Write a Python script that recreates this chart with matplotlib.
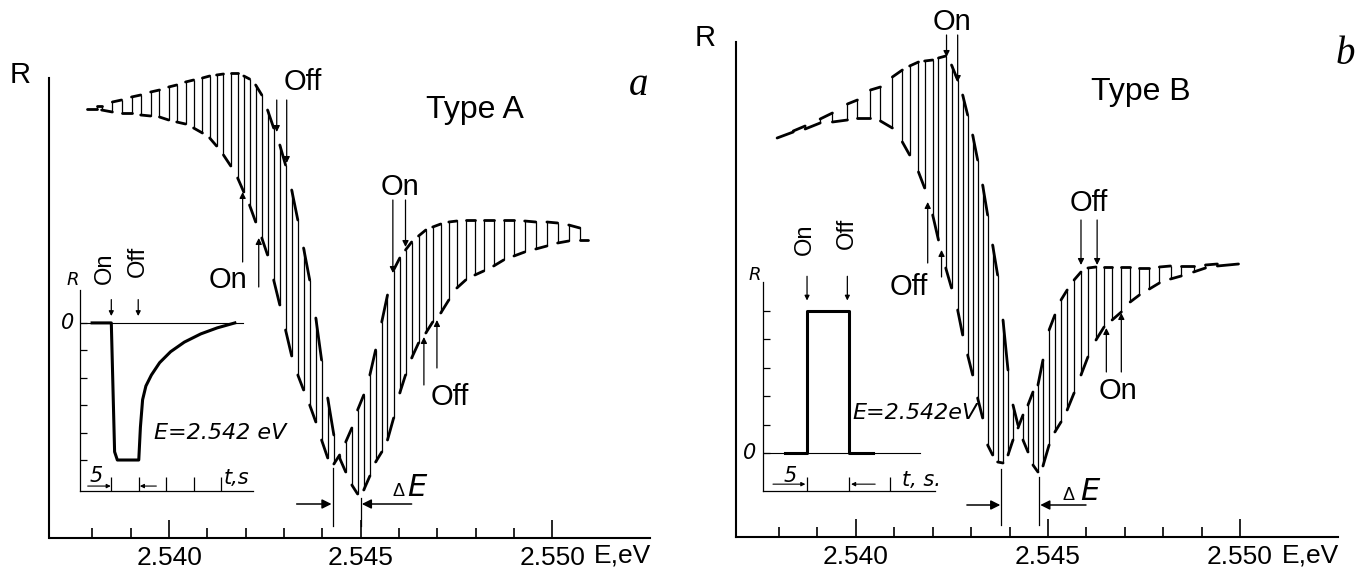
import matplotlib
matplotlib.use("Agg")
import matplotlib.pyplot as plt
from matplotlib.collections import LineCollection

plt.rcParams["font.family"] = ["Liberation Sans", "DejaVu Sans"]

# ---- panel a (Type A): energies (eV) at which the light was switched,
# and R on the "off" / "on" branch at each of them (arbitrary units)
a_E = [2.53811, 2.53824, 2.53852, 2.53876, 2.53902, 2.53926, 2.53952, 2.53975, 2.53999,
       2.54020, 2.54043, 2.54064, 2.54087, 2.54106, 2.54124, 2.54142, 2.54161, 2.54179,
       2.54195, 2.54210, 2.54226, 2.54242, 2.54257, 2.54273, 2.54289, 2.54304, 2.54320,
       2.54336, 2.54351, 2.54367, 2.54383, 2.54398, 2.54414, 2.54430, 2.54445, 2.54461,
       2.54477, 2.54492, 2.54508, 2.54524, 2.54539, 2.54555, 2.54570, 2.54586, 2.54602,
       2.54617, 2.54633,
       2.54651, 2.54670, 2.54688, 2.54709, 2.54730, 2.54751, 2.54774, 2.54798, 2.54821,
       2.54847, 2.54873, 2.54900, 2.54928, 2.54957, 2.54986, 2.55014, 2.55043, 2.55072]
a_off = [432, 432, 436, 438, 441, 443, 446, 448, 451, 453, 456, 458, 460, 462, 463, 464, 465, 465,
         462, 459, 453, 443, 428, 410, 393, 373, 348, 318, 290, 258, 220, 178, 140, 103, 80, 66,
         53, 44, 48, 62, 76, 86, 98, 120, 145, 163, 180,
         195, 205, 216, 225, 238, 250, 258, 263, 267, 272, 278, 282, 286, 289, 292, 295, 297, 298]
a_on = [429, 428, 426, 425, 425, 423, 422, 421, 418, 416, 414, 410, 405, 400, 392, 383, 372, 360,
        346, 333, 316, 300, 283, 258, 233, 208, 182, 163, 148, 133, 116, 98, 80, 74, 83, 96,
        110, 128, 143, 163, 188, 216, 243, 268, 280, 288, 296,
        302, 308, 311, 314, 316, 317, 318, 318, 318, 318, 318, 318, 317, 316, 316, 315, 313, 310]
a_start = (2.53787, 429)
a_end = (2.55093, 298)

# ---- panel b (Type B)
b_E = [2.53837, 2.53868, 2.53907, 2.53939, 2.53978, 2.54004, 2.54038, 2.54064, 2.54095, 2.54121,
       2.54140, 2.54163, 2.54179, 2.54200, 2.54215, 2.54234, 2.54249, 2.54265, 2.54278, 2.54291,
       2.54304, 2.54317, 2.54330, 2.54343, 2.54356, 2.54369, 2.54383, 2.54396, 2.54409, 2.54422,
       2.54435, 2.54448, 2.54461, 2.54474, 2.54487, 2.54503, 2.54518, 2.54534, 2.54550, 2.54568,
       2.54586, 2.54604, 2.54625, 2.54646, 2.54667, 2.54691, 2.54714, 2.54738, 2.54764, 2.54790,
       2.54819, 2.54847, 2.54879, 2.54910, 2.54941]
b_on = [406, 411, 418, 424, 433, 437, 447, 450, 460, 467,
        471, 475, 476, 477, 479, 481, 472, 457, 442, 422,
        402, 377, 352, 322, 292, 262, 217, 167, 132, 112,
        97, 85, 72, 65, 71, 92, 105, 115, 127, 144,
        162, 180, 197, 210, 217, 225, 235, 242, 248, 254,
        258, 261, 265, 269, 271]
b_off = [405, 408, 414, 415, 417, 419, 419, 416, 409, 395,
         382, 365, 349, 322, 297, 269, 249, 227, 202, 182,
         162, 139, 119, 92, 82, 75, 74, 82, 97, 109,
         122, 132, 145, 152, 177, 207, 222, 237, 247, 257,
         265, 269, 270, 270, 270, 270, 270, 269, 269, 270,
         271, 271, 271, 272, 273]
b_start = (2.53795, 399)
b_end = (2.54996, 273)

# ---- insets: R(t) at E = 2.542 eV
ia_t = [2.2, 5.7, 6.3, 6.8, 10.7, 11.0, 11.4, 12.0, 13.0, 14.5, 16.5, 19.0, 22.0, 25.0, 28.2]
ia_R = [0, 0, -4.7, -5.0, -5.0, -3.8, -2.8, -2.3, -1.9, -1.45, -1.05, -0.7, -0.4, -0.18, 0]
ib_t = [2.6, 5.3, 5.3, 10.3, 10.3, 13.2]
ib_R = [0, 0, 5.0, 5.0, 0, 0]

major_E = [2.540, 2.545, 2.550]
major_lbl = ["2.540", "2.545", "2.550"]
minor_E = [2.538, 2.539, 2.541, 2.542, 2.543, 2.544, 2.546, 2.547, 2.548, 2.549]

W, H = 1367, 575
fig = plt.figure(figsize=(W / 100, H / 100), dpi=100)


def px_rect(x0, x1, y_top, y_bot):
    return [x0 / W, 1 - y_bot / H, (x1 - x0) / W, (y_bot - y_top) / H]


def switching_trace(E, off, on, start, end, first_on):
    # recorder trace: follows one branch, jumps to the other at every switch
    levels, jumps = [], []
    x0, y0 = start
    state_on = not first_on
    for i, e in enumerate(E):
        y_here = on[i] if state_on else off[i]
        levels.append([(x0, y0), (e, y_here)])
        state_on = not state_on
        y_new = on[i] if state_on else off[i]
        jumps.append([(e, y_here), (e, y_new)])
        x0, y0 = e, y_new
    levels.append([(x0, y0), end])
    return levels, jumps


def main_axes(rect, top):
    ax = fig.add_axes(rect)
    ax.patch.set_alpha(0)
    ax.set_xlim(2.53688, 2.55255)
    ax.set_ylim(0, top)
    for s in ("top", "right"):
        ax.spines[s].set_visible(False)
    for s in ("left", "bottom"):
        ax.spines[s].set_linewidth(1.5)
    ax.set_yticks([])
    ax.set_xticks(major_E)
    ax.set_xticklabels(major_lbl)
    ax.set_xticks(minor_E, minor=True)
    ax.tick_params(axis="x", which="major", direction="in", length=13, width=1.2,
                   labelsize=19, pad=6)
    ax.tick_params(axis="x", which="minor", direction="in", length=7, width=1.2)
    return ax


def arrow(ax, tail, tip, lw=0.9, ms=9):
    ax.annotate("", xy=tip, xytext=tail,
                arrowprops=dict(arrowstyle="-|>", color="k", lw=lw, mutation_scale=ms,
                                shrinkA=0, shrinkB=0))


def label(ax, text, pos, arrows, size=21):
    ax.text(pos[0], pos[1], text, fontsize=size, ha="center", va="center")
    for x, y0, y1 in arrows:
        arrow(ax, (x, y0), (x, y1))


def draw_trace(ax, E, off, on, start, end, first_on):
    levels, jumps = switching_trace(E, off, on, start, end, first_on)
    ax.add_collection(LineCollection(levels, colors="k", linewidths=2.0, capstyle="round",
                                     clip_on=False))
    ax.add_collection(LineCollection(jumps, colors="k", linewidths=0.9, clip_on=False))


def delta_E(ax, x_left, top_left, x_right, top_right, y_arr, tail_l, tail_r, d_pos, e_pos):
    ax.plot([x_left, x_left], [12, top_left], color="k", lw=0.9)
    ax.plot([x_right, x_right], [12, top_right], color="k", lw=0.9)
    arrow(ax, (tail_l, y_arr), (x_left - 0.00003, y_arr), lw=1.1, ms=14)
    arrow(ax, (tail_r, y_arr), (x_right + 0.00003, y_arr), lw=1.1, ms=14)
    ax.text(d_pos[0], d_pos[1], "Δ", fontsize=13, ha="center", va="center")
    ax.text(e_pos[0], e_pos[1], "E", fontsize=22, style="italic", ha="center", va="center",
            family="DejaVu Sans", fontweight="light")


def inset(rect, xlim, ylim, yticks, xticks, t, R, zero_end):
    ax = fig.add_axes(rect)
    ax.patch.set_alpha(0)
    ax.set_xlim(*xlim)
    ax.set_ylim(*ylim)
    for s in ("top", "right"):
        ax.spines[s].set_visible(False)
    for s in ("left", "bottom"):
        ax.spines[s].set_linewidth(0.9)
    ax.set_yticks(yticks)
    ax.set_xticks(xticks)
    ax.set_yticklabels([])
    ax.set_xticklabels([])
    ax.tick_params(axis="y", direction="in", length=5, width=0.9)
    ax.tick_params(axis="x", direction="in", length=10, width=0.9)
    ax.plot([0, zero_end], [0, 0], color="k", lw=0.8)
    ax.plot(t, R, color="k", lw=2.2, solid_joinstyle="round")
    return ax


itext = dict(style="italic", family="DejaVu Sans", ha="center", va="center")

# ================= panel a =================
ax_a = main_axes(px_rect(49.5, 650, 78, 538), 460)
draw_trace(ax_a, a_E, a_off, a_on, a_start, a_end, first_on=False)
label(ax_a, "Off", (2.54349, 456), [(2.54281, 438, 406), (2.54307, 438, 375)])
label(ax_a, "On", (2.54155, 258), [(2.54192, 276, 346), (2.54234, 251, 300)])
label(ax_a, "On", (2.54602, 351), [(2.54584, 338, 265), (2.54617, 338, 291)])
label(ax_a, "Off", (2.54732, 141), [(2.54665, 153, 201), (2.54699, 170, 218)])
delta_E(ax_a, 2.54427, 70, 2.54500, 40, 34, 2.54333, 2.54633,
        (2.54598, 46), (2.54646, 50))
ax_a.text(2.54798, 428, "Type A", fontsize=23, ha="center", va="center")
ax_a.text(2.55225, 452, "a", fontsize=28, style="italic", family="Liberation Serif",
          ha="center", va="center")

in_a = inset(px_rect(80, 253, 290, 491), (0, 31.5), (-6.13, 1.2),
             [0, -1, -2, -3, -4, -5], [5.7, 10.7, 15.7, 20.7, 25.7], ia_t, ia_R, 29.6)
in_a.text(-1.3, 1.55, "R", fontsize=13, **itext)
in_a.text(-2.2, 0, "0", fontsize=15, **itext)
in_a.text(4.6, 2.0, "On", fontsize=17, rotation=90, ha="center", va="center")
in_a.text(10.6, 2.25, "Off", fontsize=17, rotation=90, ha="center", va="center")
arrow(in_a, (5.7, 0.85), (5.7, 0.25), ms=7)
arrow(in_a, (10.6, 0.85), (10.6, 0.25), ms=7)
in_a.text(2.9, -5.6, "5", fontsize=15, **itext)
arrow(in_a, (1.4, -5.95), (5.6, -5.95), lw=0.8, ms=6)
arrow(in_a, (13.9, -5.95), (10.9, -5.95), lw=0.8, ms=6)
in_a.text(28.4, -5.65, "t,s", fontsize=15, **itext)
in_a.text(25.5, -4.0, "E=2.542 eV", fontsize=16, **itext)

# ================= panel b =================
ax_b = main_axes(px_rect(736, 1338, 42, 537), 495)
draw_trace(ax_b, b_E, b_off, b_on, b_start, b_end, first_on=True)
label(ax_b, "On", (2.54249, 515), [(2.54236, 502, 480), (2.54265, 502, 455)])
label(ax_b, "Off", (2.54137, 250), [(2.54187, 274, 335), (2.54223, 260, 287)])
label(ax_b, "Off", (2.54607, 334), [(2.54586, 317, 272), (2.54628, 317, 272)])
label(ax_b, "On", (2.54683, 146), [(2.54652, 165, 209), (2.54691, 165, 224)])
delta_E(ax_b, 2.54379, 68, 2.54477, 60, 32, 2.54289, 2.54599,
        (2.54553, 42), (2.54608, 46))
ax_b.text(2.54743, 445, "Type B", fontsize=23, ha="center", va="center")

in_b = inset(px_rect(763, 935, 282, 491), (0, 20.7), (-1.33, 6.0),
             [0, 1, 2, 3, 4, 5], [5.3, 10.3, 15.3], ib_t, ib_R, 18.9)
in_b.text(-0.96, 6.25, "R", fontsize=13, **itext)
in_b.text(-1.57, 0, "0", fontsize=15, **itext)
in_b.text(5.0, 7.5, "On", fontsize=17, rotation=90, ha="center", va="center")
in_b.text(10.1, 7.7, "Off", fontsize=17, rotation=90, ha="center", va="center")
arrow(in_b, (5.3, 6.2), (5.3, 5.35), ms=7)
arrow(in_b, (10.15, 6.2), (10.15, 5.35), ms=7)
in_b.text(3.3, -0.8, "5", fontsize=15, **itext)
arrow(in_b, (1.2, -1.09), (5.1, -1.09), lw=0.8, ms=6)
arrow(in_b, (13.5, -1.09), (10.6, -1.09), lw=0.8, ms=6)
in_b.text(19.1, -0.95, "t, s.", fontsize=15, **itext)
in_b.text(18.3, 1.4, "E=2.542eV", fontsize=16, **itext)

# axis names and panel letter outside the axes
fig.text(20 / W, 1 - 75 / H, "R", fontsize=21, ha="center", va="center")
fig.text(705 / W, 1 - 38 / H, "R", fontsize=21, ha="center", va="center")
fig.text(622 / W, 1 - 556 / H, "E,eV", fontsize=19, ha="center", va="center")
fig.text(1310 / W, 1 - 556 / H, "E,eV", fontsize=19, ha="center", va="center")
fig.text(1345 / W, 1 - 55 / H, "b", fontsize=28, style="italic", family="Liberation Serif",
         ha="center", va="center")

fig.savefig("out.png", dpi=100)
